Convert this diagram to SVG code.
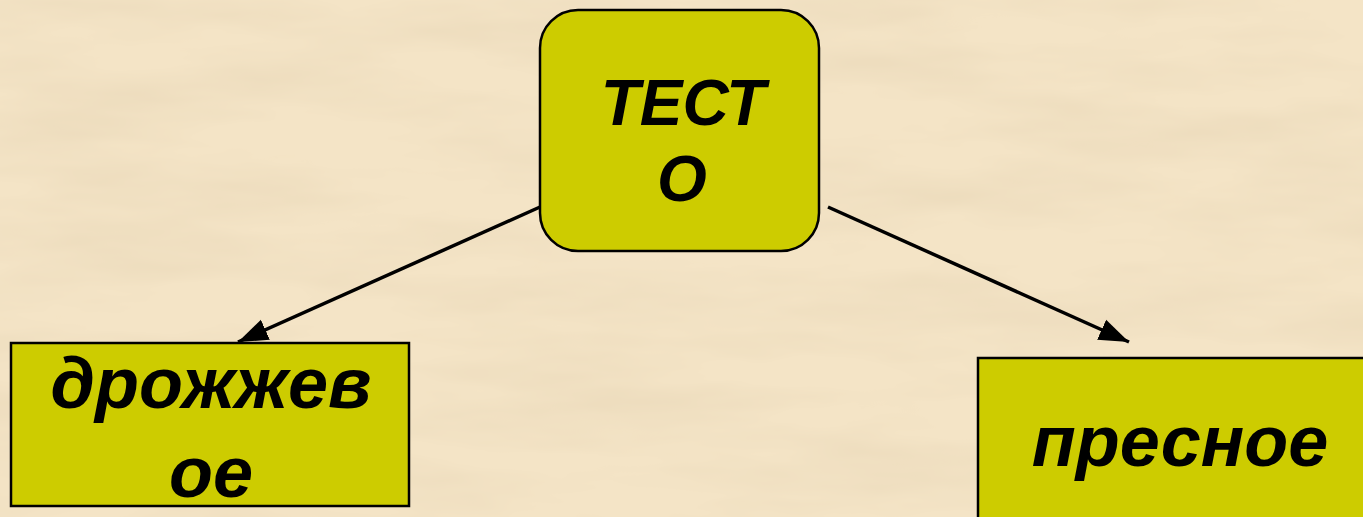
<svg xmlns="http://www.w3.org/2000/svg" width="1363" height="517" viewBox="0 0 1363 517">
  <style>
    .node { fill: #CDCC00; stroke: #000; stroke-width: 2.5; }
    .lbl { font-family: "Liberation Sans", Arial, sans-serif; font-weight: bold; font-style: italic; fill: #000; text-anchor: middle; }
    .edge { stroke: #000; stroke-width: 3.5; fill: none; marker-end: url(#arrow); }
  </style>
  <defs>
    <marker id="arrow" markerUnits="userSpaceOnUse" markerWidth="32" markerHeight="26" viewBox="0 0 32 26" refX="30" refY="13" orient="auto">
      <path d="M0,2 L30,13 L0,24 Z" fill="#000"/>
    </marker>
    <filter id="parch" x="0" y="0" width="100%" height="100%">
      <feTurbulence type="fractalNoise" baseFrequency="0.004 0.018" numOctaves="4" seed="7" result="n"/>
      <feColorMatrix in="n" type="matrix" values="0 0 0 0 0.78  0 0 0 0 0.65  0 0 0 0 0.45  1.0 0 0 0 -0.38"/>
    </filter>
  </defs>
  <rect x="0" y="0" width="1363" height="517" fill="#F4E4C6"/>
  <rect x="0" y="0" width="1363" height="517" filter="url(#parch)"/>
  <g id="connectors">
    <line class="edge" x1="540" y1="207" x2="238" y2="342"/>
    <line class="edge" x1="828" y1="207" x2="1129" y2="342"/>
  </g>
  <g id="node-testo">
    <rect class="node" x="540" y="10" width="279" height="241" rx="38" ry="38"/>
    <text class="lbl" x="683" y="125" font-size="64">ТЕСТ</text>
    <text class="lbl" x="682" y="201" font-size="64">О</text>
  </g>
  <g id="node-drozhzhevoe">
    <rect class="node" x="11" y="343" width="398" height="163"/>
    <text class="lbl" x="211" y="408" font-size="72">дрожжев</text>
    <text class="lbl" x="211" y="497" font-size="72">ое</text>
  </g>
  <g id="node-presnoe">
    <rect class="node" x="978" y="358" width="404" height="170"/>
    <text class="lbl" x="1180" y="466" font-size="72">пресное</text>
  </g>
</svg>
